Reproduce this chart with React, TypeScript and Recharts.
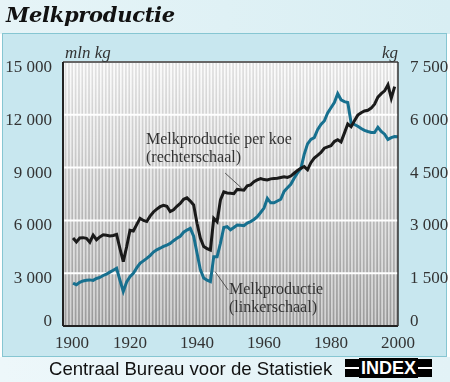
import React from "react";
import {
  LineChart,
  Line,
  XAxis,
  YAxis,
  CartesianGrid,
  ReferenceLine,
} from "recharts";

const years = [
  1903, 1904, 1905, 1906, 1907, 1908, 1909, 1910, 1911, 1912, 1913, 1914, 1915,
  1916, 1917, 1918, 1919, 1920, 1921, 1922, 1923, 1924, 1925, 1926, 1927, 1928,
  1929, 1930, 1931, 1932, 1933, 1934, 1935, 1936, 1937, 1938, 1939, 1940, 1941,
  1942, 1943, 1944, 1945, 1946, 1947, 1948, 1949, 1950, 1951, 1952, 1953, 1954,
  1955, 1956, 1957, 1958, 1959, 1960, 1961, 1962, 1963, 1964, 1965, 1966, 1967,
  1968, 1969, 1970, 1971, 1972, 1973, 1974, 1975, 1976, 1977, 1978, 1979, 1980,
  1981, 1982, 1983, 1984, 1985, 1986, 1987, 1988, 1989, 1990, 1991, 1992, 1993,
  1994, 1995, 1996, 1997, 1998, 1999, 2000,
];

// mln kg (linkerschaal)
const melkproductie = [
  2440, 2340, 2480, 2560, 2600, 2620, 2590, 2700, 2760, 2870, 2950, 3060, 3170,
  3280, 2600, 1960, 2500, 2800, 2990, 3300, 3560, 3700, 3840, 4000, 4200, 4330,
  4420, 4520, 4600, 4690, 4850, 4980, 5100, 5330, 5450, 5550, 5100, 4150, 3200,
  2730, 2600, 2520, 3940, 3940, 4700, 5600, 5650, 5470, 5600, 5740, 5720, 5700,
  5850, 5930, 6050, 6210, 6450, 6700, 7250, 7000, 7000, 7100, 7200, 7650, 7850,
  8050, 8400, 8700, 8950, 9750, 10350, 10600, 10700, 11150, 11450, 11650, 12100,
  12400, 12700, 13200, 12850, 12750, 12700, 11550, 11450, 11350, 11220, 11120,
  11050, 11000, 10990, 11290, 11050, 10900, 10600, 10700, 10760, 10750,
];

// kg per koe (rechterschaal)
const perKoe = [
  2500, 2390, 2500, 2510, 2490, 2380, 2580, 2450, 2530, 2590, 2580, 2560, 2570,
  2600, 2200, 1830, 2250, 2720, 2700, 2880, 3060, 3000, 2970, 3120, 3240, 3320,
  3390, 3430, 3400, 3250, 3300, 3400, 3480, 3600, 3640, 3550, 3440, 2920, 2500,
  2260, 2200, 2160, 3060, 2960, 3580, 3810, 3780, 3770, 3760, 3880, 3870, 3860,
  3980, 4010, 4100, 4150, 4190, 4160, 4150, 4180, 4190, 4200, 4220, 4240, 4220,
  4260, 4340, 4420, 4480, 4530, 4440, 4640, 4770, 4850, 4930, 5050, 5090, 5120,
  5240, 5290, 5230, 5480, 5740, 5660, 5830, 5990, 6060, 6110, 6130, 6190, 6300,
  6500, 6600, 6680, 6850, 6470, 6800, null,
];

const leftTicks = [0, 3000, 6000, 9000, 12000, 15000];
const rightTicks = [0, 1500, 3000, 4500, 6000, 7500];
const yearTicks = [1900, 1920, 1940, 1960, 1980, 2000];

const data = years.map((year, i) => ({
  year,
  melk: melkproductie[i],
  koe: perKoe[i],
}));

const SERIF = "'Liberation Serif', 'DejaVu Serif', serif";
const SANS = "'Liberation Sans', Arial, sans-serif";
const TXT = "#333";

const fmt = (v: number) =>
  v >= 1000 ? `${Math.floor(v / 1000)} ${String(v % 1000).padStart(3, "0")}` : String(v);

const LeftTick = (props: any) => {
  const { x, y, payload } = props;
  const dy = payload.value === 0 ? 0 : 10;
  return (
    <text x={x - 3} y={y + dy} textAnchor="end" fill={TXT} fontFamily={SERIF} fontSize={17}>
      {fmt(payload.value)}
    </text>
  );
};

const RightTick = (props: any) => {
  const { x, y, payload } = props;
  const dy = payload.value === 0 ? 0 : 10;
  return (
    <text x={x + 4} y={y + dy} textAnchor="start" fill={TXT} fontFamily={SERIF} fontSize={17}>
      {fmt(payload.value)}
    </text>
  );
};

const YearTick = (props: any) => {
  const { x, y, payload } = props;
  const dx = payload.value === 1900 ? 9 : 0;
  return (
    <text x={x + dx} y={y + 14} textAnchor="middle" fill={TXT} fontFamily={SERIF} fontSize={17}>
      {payload.value}
    </text>
  );
};

const abs = (style: React.CSSProperties): React.CSSProperties => ({
  position: "absolute",
  whiteSpace: "nowrap",
  ...style,
});

export default function App() {
  return (
    <div style={{ position: "fixed", left: 0, top: 0, width: 450, height: 382, overflow: "hidden" }}>
      {/* title band */}
      <div
        style={abs({
          left: 0, top: 0, width: 450, height: 34,
          background: "linear-gradient(90deg, #e6f4f7, #d8eef3)",
        })}
      />
      <div
        style={abs({
          left: 6, top: 1, fontFamily: "'DejaVu Serif', serif", fontWeight: "bold", fontStyle: "italic",
          fontSize: 21, color: "#111", lineHeight: "28px", letterSpacing: -0.3,
        })}
      >
        Melkproductie
      </div>
      {/* frame */}
      <div
        style={abs({
          left: 2, top: 33, width: 443, height: 322,
          background: "#c8e7ef", border: "1.5px solid #86c6d2",
        })}
      />
      {/* footer */}
      <div
        style={abs({
          left: 0, top: 357, width: 450, height: 25,
          background: "linear-gradient(90deg, #edf7fa, #e2f2f6)",
        })}
      />
      <div style={abs({ left: 49, top: 358, fontFamily: SANS, fontSize: 18.6, color: "#111", lineHeight: "22px" })}>
        Centraal Bureau voor de Statistiek
      </div>
      <div style={abs({ left: 345, top: 359, width: 87, height: 18, background: "#000" })}>
        <div style={abs({ left: 0, top: 8, width: 87, height: 1.5, background: "#fff" })} />
        <div
          style={abs({
            left: 14, top: -1, width: 59, height: 20, background: "#000", color: "#fff",
            fontFamily: SANS, fontWeight: "bold", fontSize: 18, lineHeight: "20px", textAlign: "center",
          })}
        >
          INDEX
        </div>
      </div>

      <div style={abs({ left: 0, top: 0 })}>
        <LineChart width={450} height={382} data={data} margin={{ top: 62, right: 0, bottom: 0, left: 0 }}>
          <defs>
            <linearGradient id="darkStripe" x1="0" y1="0" x2="0" y2="1">
              <stop offset="0.16" stopColor="#e0e0e0" />
              <stop offset="0.85" stopColor="#969696" />
            </linearGradient>
            <linearGradient id="lightStripe" x1="0" y1="0" x2="0" y2="1">
              <stop offset="0.16" stopColor="#fcfcfc" />
              <stop offset="0.85" stopColor="#d2d2d2" />
            </linearGradient>
            <pattern id="stripes" patternUnits="userSpaceOnUse" x={63} y={0} width={3.35} height={382}>
              <rect x={0} y={0} width={3.35} height={382} fill="url(#darkStripe)" />
              <rect x={0} y={0} width={1.8} height={382} fill="url(#lightStripe)" />
            </pattern>
          </defs>
          <CartesianGrid
            yAxisId="left"
            vertical={false}
            stroke="#ffffff"
            strokeWidth={2}
            fill="url(#stripes)"
            fillOpacity={1}
          />
          <XAxis
            dataKey="year"
            type="number"
            domain={[1900, 2000]}
            ticks={yearTicks}
            height={56}
            tickLine={false}
            axisLine={{ stroke: "#222", strokeWidth: 2 }}
            tick={<YearTick />}
          />
          <YAxis
            yAxisId="left"
            domain={[0, 15000]}
            ticks={leftTicks}
            width={63}
            tickLine={false}
            axisLine={{ stroke: "#222", strokeWidth: 2 }}
            tick={<LeftTick />}
          />
          <YAxis
            yAxisId="right"
            orientation="right"
            domain={[0, 7500]}
            ticks={rightTicks}
            width={52}
            tickLine={false}
            axisLine={{ stroke: "#333", strokeWidth: 1.5 }}
            tick={<RightTick />}
          />
          <ReferenceLine yAxisId="left" y={15000} stroke="#333" strokeWidth={1.5} />
          <ReferenceLine
            yAxisId="left"
            segment={[{ x: 1948.4, y: 8690 }, { x: 1953.3, y: 7840 }]}
            stroke="#333"
            strokeWidth={0.8}
          />
          <ReferenceLine
            yAxisId="left"
            segment={[{ x: 1945.4, y: 3090 }, { x: 1949.3, y: 2050 }]}
            stroke="#333"
            strokeWidth={0.8}
          />
          <Line
            yAxisId="left"
            dataKey="melk"
            stroke="#17708f"
            strokeWidth={3}
            dot={false}
            isAnimationActive={false}
          />
          <Line
            yAxisId="right"
            dataKey="koe"
            stroke="#1a1a1a"
            strokeWidth={3}
            dot={false}
            isAnimationActive={false}
          />
        </LineChart>
      </div>

      {/* axis units */}
      <div style={abs({ left: 65, top: 44, fontFamily: SERIF, fontStyle: "italic", fontSize: 17, color: TXT, lineHeight: "18px" })}>
        mln kg
      </div>
      <div style={abs({ left: 382, top: 44, fontFamily: SERIF, fontStyle: "italic", fontSize: 17, color: TXT, lineHeight: "18px" })}>
        kg
      </div>

      {/* annotations */}
      <div style={abs({ left: 146, top: 130, fontFamily: SERIF, fontSize: 16, color: TXT, lineHeight: "18px" })}>
        Melkproductie per koe
        <br />
        (rechterschaal)
      </div>
      <div style={abs({ left: 229, top: 280, fontFamily: SERIF, fontSize: 16, color: TXT, lineHeight: "18px" })}>
        Melkproductie
        <br />
        (linkerschaal)
      </div>
    </div>
  );
}
